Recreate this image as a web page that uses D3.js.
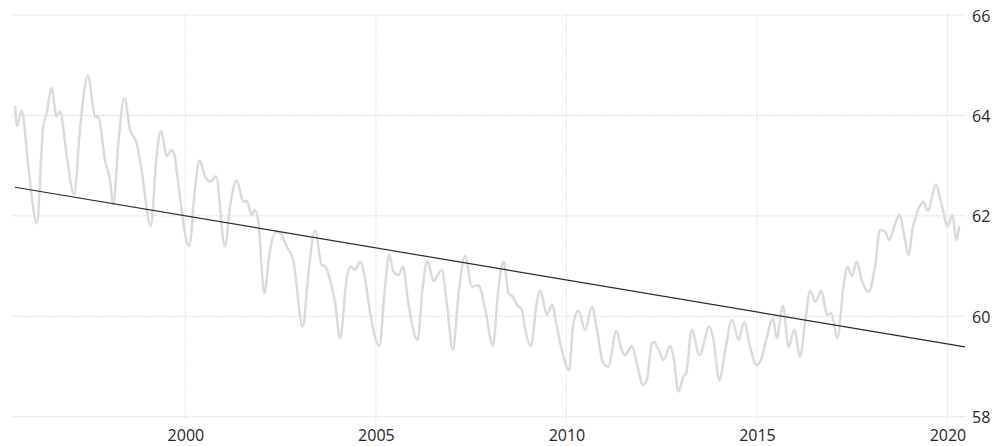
<!DOCTYPE html>
<html>
<head>
<meta charset="utf-8">
<script src="https://cdn.jsdelivr.net/npm/d3@7"></script>
<style>
  html, body { margin: 0; padding: 0; background: #ffffff; }
  svg { display: block; }
  .tick text { font-family: "Open Sans", "Liberation Sans", sans-serif; font-size: 16px; fill: #262626; }
</style>
</head>
<body>
<div id="chart"></div>
<script>
// ---- data (decimal year, value) ----
const dates = [
  1995.53,1995.59,1995.70,1995.88,1996.10,1996.27,1996.36,1996.49,1996.62,1996.71,1996.89,
  1997.08,1997.24,1997.44,1997.63,1997.72,1997.89,1998.02,1998.11,1998.24,1998.40,1998.55,1998.72,1998.85,
  1999.09,1999.25,1999.36,1999.51,1999.64,1999.73,1999.78,
  2000.10,2000.25,2000.37,2000.52,2000.67,2000.80,
  2001.04,2001.17,2001.35,2001.52,2001.61,2001.74,2001.83,2001.92,
  2002.07,2002.22,2002.40,2002.53,2002.66,2002.83,
  2003.08,2003.23,2003.40,2003.58,2003.66,2003.79,2003.93,
  2004.06,2004.24,2004.34,2004.45,2004.59,2004.72,2004.85,
  2005.09,2005.24,2005.35,2005.46,2005.59,2005.71,2005.85,
  2006.09,2006.23,2006.35,2006.51,2006.73,2006.86,
  2007.02,2007.17,2007.34,2007.52,2007.69,2007.87,
  2008.07,2008.21,2008.35,2008.48,2008.59,2008.70,2008.83,2008.92,
  2009.07,2009.22,2009.31,2009.49,2009.62,2009.75,2009.91,
  2010.07,2010.18,2010.32,2010.49,2010.67,2010.80,2010.97,
  2011.10,2011.31,2011.45,2011.54,2011.72,2011.85,
  2012.01,2012.11,2012.24,2012.30,2012.42,2012.55,2012.72,2012.81,2012.94,
  2013.07,2013.14,2013.29,2013.49,2013.75,2013.86,
  2014.01,2014.17,2014.34,2014.52,2014.66,2014.82,2014.99,
  2015.10,2015.26,2015.42,2015.52,2015.68,2015.83,2015.98,
  2016.13,2016.26,2016.40,2016.53,2016.69,2016.84,2016.95,
  2017.11,2017.27,2017.38,2017.49,2017.62,2017.75,2017.93,
  2018.10,2018.23,2018.36,2018.47,2018.63,2018.74,2018.87,2018.98,
  2019.08,2019.20,2019.37,2019.48,2019.70,2019.83,
  2020.01,2020.13,2020.23,2020.31
];
const values = [
  64.19,63.79,64.10,62.98,61.85,63.78,64.04,64.54,63.98,64.08,63.18,
  62.42,63.78,64.79,63.98,63.96,63.11,62.72,62.22,63.45,64.34,63.71,63.45,62.91,
  61.80,63.24,63.69,63.19,63.31,63.15,62.85,
  61.40,62.52,63.10,62.78,62.68,62.79,
  61.39,62.18,62.70,62.28,62.30,62.02,62.12,61.85,
  60.46,61.32,61.69,61.62,61.39,61.12,
  59.79,60.86,61.71,61.02,61.00,60.75,60.26,
  59.56,60.79,60.99,60.92,61.09,60.72,60.06,
  59.41,60.60,61.22,60.89,60.82,60.99,60.26,
  59.53,60.59,61.11,60.70,60.92,60.26,
  59.33,60.46,61.20,60.59,60.62,60.13,
  59.41,60.52,61.09,60.46,60.39,60.23,60.13,59.73,
  59.41,60.26,60.52,60.03,60.23,59.79,59.23,
  58.92,59.86,60.11,59.73,60.19,59.73,59.06,
  59.00,59.71,59.33,59.23,59.41,59.06,
  58.63,58.73,59.46,59.49,59.33,59.13,59.41,59.20,58.50,
  58.80,58.86,59.73,59.23,59.79,59.53,
  58.73,59.33,59.93,59.53,59.89,59.39,59.03,
  59.12,59.59,59.96,59.56,60.21,59.39,59.73,
  59.20,59.86,60.51,60.29,60.51,60.03,60.06,
  59.56,60.59,60.99,60.80,61.09,60.72,60.49,
  60.99,61.72,61.69,61.52,61.85,62.02,61.59,61.22,
  61.72,62.06,62.28,62.10,62.62,62.28,
  61.79,62.02,61.52,61.80
];
// trend line end points
const trendDates = [1995.53, 2020.46];
const trendValues = [62.57, 59.39];
// tick labels
const xTicks = [2000, 2005, 2010, 2015, 2020];
const yTicks = [58, 60, 62, 64, 66];

// ---- layout ----
const W = 995, H = 446;
const plot = { left: 12, right: 965, top: 15, bottom: 416.7 };

const svg = d3.select("#chart").append("svg").attr("width", W).attr("height", H);

const x = d3.scaleLinear().domain([1995.45, 2020.46]).range([plot.left, plot.right]);
const y = d3.scaleLinear().domain([58, 66]).range([plot.bottom, plot.top]);

// gridlines
const grid = svg.append("g");
grid.selectAll("line.h").data(yTicks).join("line")
  .attr("x1", plot.left).attr("x2", plot.right)
  .attr("y1", d => y(d)).attr("y2", d => y(d))
  .attr("stroke", "#dcdcdc").attr("stroke-width", 1).attr("stroke-dasharray", "2,1");
grid.selectAll("line.v").data(xTicks).join("line")
  .attr("x1", d => x(d)).attr("x2", d => x(d))
  .attr("y1", plot.top).attr("y2", plot.bottom + 5)
  .attr("stroke", "#e4e4e4").attr("stroke-width", 1).attr("stroke-dasharray", "2,1");

// axes (labels only)
const xAxis = d3.axisBottom(x).tickValues(xTicks).tickFormat(d3.format("d")).tickSize(0).tickPadding(13);
const gx = svg.append("g").attr("transform", `translate(0,${plot.bottom})`).call(xAxis);
gx.select(".domain").remove();

const yAxis = d3.axisRight(y).tickValues(yTicks).tickFormat(d3.format("d")).tickSize(0).tickPadding(7);
const gy = svg.append("g").attr("transform", `translate(${plot.right},0)`).call(yAxis);
gy.select(".domain").remove();
gy.selectAll("text").attr("dy", "0.38em");

// series
const series = dates.map((d, i) => ({ t: d, v: values[i] }));
const line = d3.line().x(d => x(d.t)).y(d => y(d.v)).curve(d3.curveMonotoneX);
svg.append("path").datum(series)
  .attr("d", line)
  .attr("fill", "none")
  .attr("stroke", "#dadada")
  .attr("stroke-width", 2.5)
  .attr("stroke-linejoin", "round");

// trend
const trend = trendDates.map((d, i) => ({ t: d, v: trendValues[i] }));
svg.append("path").datum(trend)
  .attr("d", d3.line().x(d => x(d.t)).y(d => y(d.v)))
  .attr("fill", "none")
  .attr("stroke", "#2b2b2b")
  .attr("stroke-width", 1.2);
</script>
</body>
</html>
